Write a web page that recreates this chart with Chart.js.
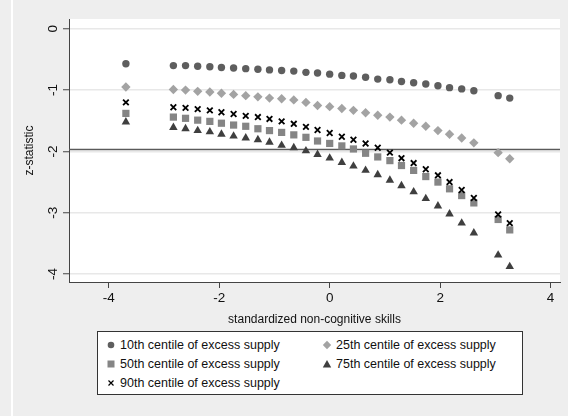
<!DOCTYPE html>
<html lang="en">
<head>
    <meta charset="UTF-8">
    <title>z-statistic by non-cognitive skills</title>
    <script src="https://cdn.jsdelivr.net/npm/chart.js@4.4.1/dist/chart.umd.min.js"></script>
    <style>
        html, body { margin: 0; padding: 0; overflow: hidden; background: #eeeeee; }
        body { width: 568px; height: 416px; position: relative;
               font-family: "Liberation Sans", Arial, sans-serif; }
        #stripe { position: absolute; left: 11px; top: 0; width: 2px; height: 416px; background: #fff; }
        #wrap { position: absolute; left: 0; top: 0; width: 568px; height: 416px; }
        #wrap canvas { display: block; }
        #legend { position: absolute; left: 97px; top: 331px; width: 426px; height: 64px;
                  background: #fff; border: 1px solid #333; box-sizing: border-box; font-size: 12.5px; color: #111; }
        .item { position: absolute; height: 16px; line-height: 16px; white-space: nowrap; }
        .item svg { position: absolute; left: 0; top: 3px; }
        .item span { position: absolute; left: 14px; }
    </style>
</head>
<body>
<div id="stripe"></div>
<div id="wrap"><canvas id="chart" width="568" height="416"></canvas></div>
<div id="legend"></div>

<script>
    // x positions (standardized non-cognitive skills)
    const xVals = [-3.69, -2.83, -2.61, -2.39, -2.17, -1.96, -1.74, -1.52, -1.30, -1.09, -0.87, -0.65, -0.43, -0.22,
        0.00, 0.22, 0.43, 0.65, 0.87, 1.09, 1.30, 1.52, 1.74, 1.96, 2.17, 2.39, 2.61, 3.05, 3.26];

    // z-statistics per centile of excess supply
    const p10 = [-0.57, -0.60, -0.60, -0.61, -0.62, -0.63, -0.64, -0.65, -0.66, -0.67, -0.68, -0.69, -0.71, -0.72,
        -0.74, -0.76, -0.77, -0.79, -0.82, -0.83, -0.86, -0.88, -0.90, -0.93, -0.96, -0.98, -1.01, -1.09, -1.13];
    const p25 = [-0.95, -0.99, -1.00, -1.02, -1.03, -1.05, -1.07, -1.09, -1.11, -1.13, -1.14, -1.16, -1.20, -1.25,
        -1.27, -1.30, -1.33, -1.37, -1.41, -1.44, -1.49, -1.54, -1.59, -1.66, -1.72, -1.78, -1.86, -2.02, -2.12];
    const p50 = [-1.38, -1.44, -1.46, -1.49, -1.51, -1.54, -1.57, -1.59, -1.63, -1.66, -1.69, -1.73, -1.77, -1.83,
        -1.87, -1.91, -1.96, -2.03, -2.09, -2.15, -2.23, -2.31, -2.41, -2.50, -2.61, -2.72, -2.84, -3.11, -3.28];
    const p75 = [-1.52, -1.61, -1.63, -1.66, -1.68, -1.72, -1.75, -1.78, -1.81, -1.85, -1.90, -1.94, -1.99, -2.05,
        -2.11, -2.18, -2.24, -2.31, -2.38, -2.47, -2.56, -2.66, -2.77, -2.89, -3.02, -3.17, -3.33, -3.69, -3.88];
    const p90 = [-1.20, -1.28, -1.29, -1.31, -1.33, -1.36, -1.39, -1.42, -1.44, -1.47, -1.51, -1.55, -1.60, -1.65,
        -1.70, -1.76, -1.81, -1.87, -1.94, -2.02, -2.11, -2.19, -2.29, -2.39, -2.50, -2.63, -2.76, -3.03, -3.17];

    const seriesLabels = ["10th centile of excess supply", "25th centile of excess supply",
        "50th centile of excess supply", "75th centile of excess supply", "90th centile of excess supply"];
    const xTicks = [-4, -2, 0, 2, 4];
    const yTicks = [0, -1, -2, -3, -4];
    const critVal = -1.96;

    const pts = ys => xVals.map((x, i) => ({ x: x, y: ys[i] }));

    const styles = [
        { shape: 'circle', color: '#5e5e5e', r: 3.7, order: 4 },
        { shape: 'rectRot', color: '#a3a3a3', r: 4.7, order: 3 },
        { shape: 'rect', color: '#858585', r: 5.1, order: 2 },
        { shape: 'triangle', color: '#3f3f3f', r: 4.9, order: 1 },
        { shape: 'crossRot', color: '#000000', r: 4.0, order: 0 }
    ];
    const allSeries = [p10, p25, p50, p75, p90];

    const datasets = allSeries.map((ys, i) => ({
        label: seriesLabels[i],
        data: pts(ys),
        pointStyle: styles[i].shape,
        pointRadius: styles[i].r,
        pointHoverRadius: styles[i].r,
        backgroundColor: styles[i].color,
        borderColor: styles[i].color,
        pointBorderWidth: styles[i].shape === 'crossRot' ? 1.8 : 0,
        order: styles[i].order
    }));

    const FONT = '"Liberation Sans", Arial, sans-serif';

    const plotDecor = {
        id: 'plotDecor',
        beforeDraw(chart) {
            const a = chart.chartArea, ctx = chart.ctx;
            ctx.save();
            ctx.fillStyle = '#ffffff';
            ctx.fillRect(a.left, a.top, a.right - a.left, a.bottom - a.top);
            ctx.restore();
        },
        beforeDatasetsDraw(chart) {
            // reference line at the critical value
            const a = chart.chartArea, ctx = chart.ctx;
            const y = Math.round(chart.scales.y.getPixelForValue(critVal)) + 0.5;
            ctx.save();
            ctx.strokeStyle = '#5a5a5a';
            ctx.lineWidth = 1.6;
            ctx.beginPath();
            ctx.moveTo(a.left, y);
            ctx.lineTo(a.right, y);
            ctx.stroke();
            ctx.restore();
        },
        afterDraw(chart) {
            // rotated y tick labels, as in the original
            const ys = chart.scales.y, ctx = chart.ctx;
            ctx.save();
            ctx.fillStyle = '#111';
            ctx.font = '13.5px ' + FONT;
            ctx.textAlign = 'center';
            ctx.textBaseline = 'middle';
            ys.ticks.forEach(t => {
                ctx.save();
                ctx.translate(53, ys.getPixelForValue(t.value));
                ctx.rotate(-Math.PI / 2);
                ctx.fillText(String(t.value), 0, 0);
                ctx.restore();
            });
            ctx.restore();
        }
    };

    new Chart(document.getElementById('chart'), {
        type: 'scatter',
        data: { datasets: datasets },
        options: {
            responsive: false,
            animation: false,
            events: [],
            layout: { padding: { top: 19, right: 8, left: 0, bottom: 89 } },
            plugins: { legend: { display: false }, tooltip: { enabled: false } },
            scales: {
                x: {
                    type: 'linear', min: -4.72, max: 4.17,
                    afterBuildTicks: s => { s.ticks = xTicks.map(v => ({ value: v })); },
                    afterFit: s => { s.height = 45; },
                    grid: { drawOnChartArea: false, tickLength: 6, tickColor: '#444', tickWidth: 1 },
                    border: { color: '#444', width: 1 },
                    ticks: { color: '#111', font: { family: FONT, size: 13.5 }, padding: 2, maxRotation: 0 },
                    title: { display: true, text: 'standardized non-cognitive skills', color: '#111',
                             font: { family: FONT, size: 12 }, padding: { top: 0, bottom: 0 } }
                },
                y: {
                    type: 'linear', min: -4.13, max: 0.16,
                    afterBuildTicks: s => { s.ticks = yTicks.map(v => ({ value: v })); },
                    afterFit: s => { s.width = 69; },
                    grid: { color: '#e8e8e8', lineWidth: 1.5, tickLength: 6, tickColor: '#444', tickWidth: 1 },
                    border: { color: '#444', width: 1 },
                    ticks: { display: false },
                    title: { display: true, text: 'z-statistic', color: '#111',
                             font: { family: FONT, size: 12 }, padding: { top: 22, bottom: 0 } }
                }
            }
        },
        plugins: [plotDecor]
    });

    // legend box: two columns, marker + text
    const legend = document.getElementById('legend');
    const markerSvg = {
        circle: c => `<circle cx="5" cy="5" r="3.3" fill="${c}"/>`,
        rectRot: c => `<polygon points="5,0.8 9.2,5 5,9.2 0.8,5" fill="${c}"/>`,
        rect: c => `<rect x="1.5" y="1.5" width="7" height="7" fill="${c}"/>`,
        triangle: c => `<polygon points="5,1 9.2,8.6 0.8,8.6" fill="${c}"/>`,
        crossRot: c => `<path d="M2.5 2.5 L7.5 7.5 M7.5 2.5 L2.5 7.5" stroke="${c}" stroke-width="1.2"/>`
    };
    seriesLabels.forEach((lab, i) => {
        const col = i % 2, row = Math.floor(i / 2);
        const d = document.createElement('div');
        d.className = 'item';
        d.style.left = (col === 0 ? 8 : 224) + 'px';
        d.style.top = (5 + row * 19) + 'px';
        d.innerHTML = `<svg width="10" height="10">${markerSvg[styles[i].shape](styles[i].color)}</svg><span>${lab}</span>`;
        legend.appendChild(d);
    });
</script>
</body>
</html>
